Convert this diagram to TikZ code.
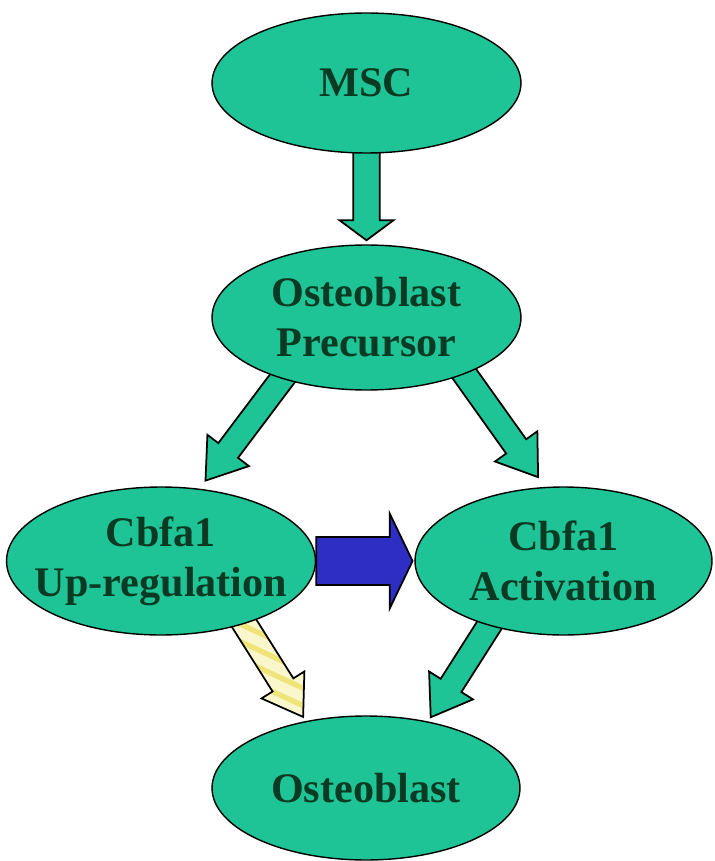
\documentclass[tikz,border=0pt]{standalone}
\usepackage{fontspec}
\setmainfont{Liberation Serif}
\usetikzlibrary{shapes.geometric,calc,backgrounds,patterns.meta}

\definecolor{cellgreen}{RGB}{30,196,150}
\definecolor{textgreen}{RGB}{10,58,36}
\definecolor{arrowblue}{RGB}{46,46,196}
\definecolor{paleyellow}{RGB}{250,247,205}
\definecolor{stripeyellow}{RGB}{238,228,120}

\tikzset{
  cell/.style={ellipse, draw=black, line width=0.8pt, fill=cellgreen, text=textgreen,
               font=\bfseries\fontsize{24}{28.5}\selectfont, align=center,
               inner xsep=-20pt, inner ysep=0pt},
  greenarrow/.style={draw=black, line width=1pt, fill=cellgreen, line join=miter},
  bluearrow/.style={draw=black, line width=1pt, fill=arrowblue, line join=miter},
  yellowarrow/.style={draw=black, line width=1pt, line join=miter,
               preaction={fill=paleyellow},
               pattern={Lines[angle=-25,distance=9pt,line width=3pt]}, pattern color=stripeyellow}
}

% #1 style, #2 from, #3 to, #4 tail reach, #5 tip gap, #6 half shaft, #7 half head, #8 head length
\newcommand{\blockarrow}[8][]{%
  \coordinate (ba-a) at ($(#2)!-#4!(#3)$);
  \coordinate (ba-b) at ($(#3)!#5!(#2)$);
  \coordinate (ba-c) at ($(ba-b)!#8!(ba-a)$);
  \draw[#1] ($(ba-a)!#6!90:(ba-b)$) -- ($(ba-c)!#6!90:(ba-b)$) -- ($(ba-c)!#7!90:(ba-b)$)
     -- (ba-b) -- ($(ba-c)!#7!-90:(ba-b)$) -- ($(ba-c)!#6!-90:(ba-b)$)
     -- ($(ba-a)!#6!-90:(ba-b)$) -- cycle;
}

\begin{document}
\begin{tikzpicture}[x=0.02cm,y=-0.02cm]
  \useasboundingbox (0,0) rectangle (714,861);

  % cells
  \node[cell, minimum width=6.18cm, minimum height=2.80cm] (msc) at (366.5,83)  {MSC};
  \node[cell, minimum width=6.18cm, minimum height=2.90cm] (pre) at (366.5,317.5) {Osteoblast\\Precursor};
  \node[cell, minimum width=6.18cm, minimum height=2.96cm] (up)  at (161,561)   {Cbfa1\\Up-regulation};
  \node[cell, minimum width=5.94cm, minimum height=2.96cm] (act) at (563.5,561) {Cbfa1\\Activation};
  \node[cell, minimum width=6.16cm, minimum height=2.88cm] (ost) at (366,788)   {Osteoblast};

  % block arrows, under the cells
  \begin{scope}[on background layer]
    \fill[white] (0,0) rectangle (714,861);
    \blockarrow[greenarrow]{msc.south}{pre.north}{8pt}{2.3pt}{7.6pt}{15.4pt}{11.4pt}
    \blockarrow[greenarrow]{pre.216}{up.62}{8pt}{5.7pt}{7pt}{14.8pt}{21.5pt}
    \blockarrow[greenarrow]{pre.330}{act.104}{8pt}{6.8pt}{7pt}{14.8pt}{21.5pt}
    \blockarrow[bluearrow]{up.east}{act.west}{0pt}{1pt}{13.6pt}{27pt}{13pt}
    \blockarrow[yellowarrow]{up.323}{ost.132}{8pt}{2.8pt}{7pt}{14.4pt}{21.5pt}
    \blockarrow[greenarrow]{act.221}{ost.47}{8pt}{2.8pt}{7pt}{14.8pt}{21.5pt}
  \end{scope}
\end{tikzpicture}
\end{document}
